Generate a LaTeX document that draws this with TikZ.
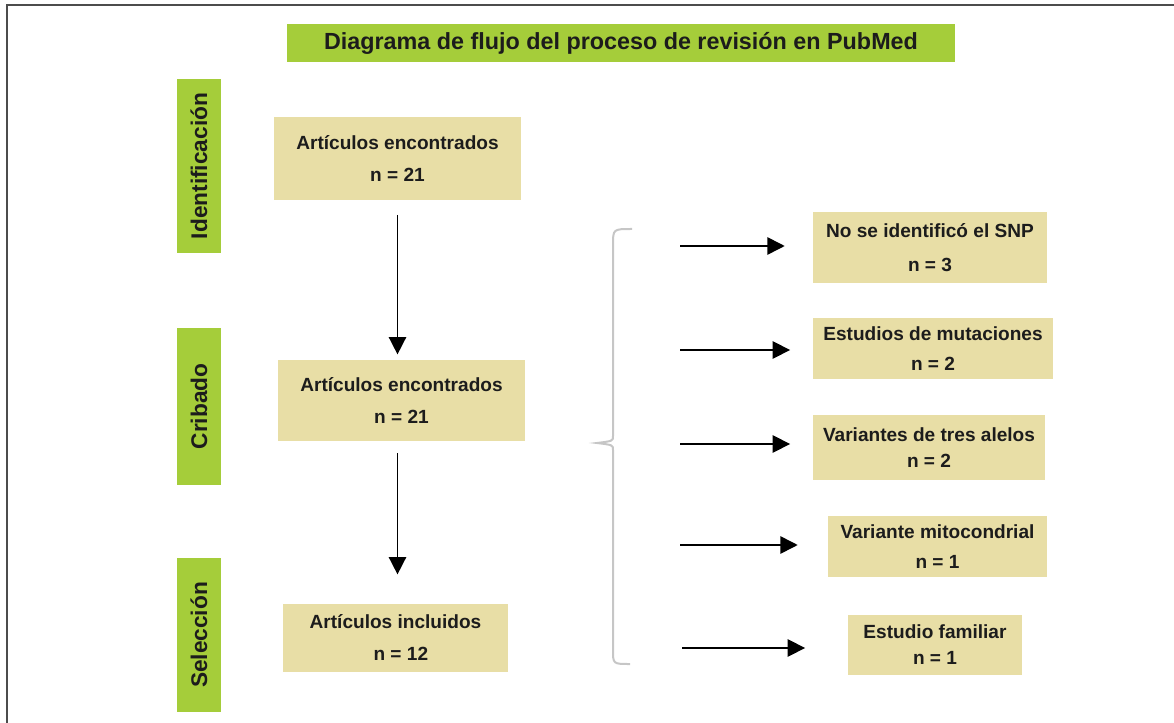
\documentclass[tikz,border=0pt]{standalone}
\usepackage{fontspec}
\setmainfont{Liberation Sans}
\usepackage{xcolor}
\usepackage{tikz}
\usetikzlibrary{arrows.meta}
\definecolor{stagegreen}{HTML}{A5CD3A}
\definecolor{boxtan}{HTML}{E8DEA6}
\definecolor{inkgray}{HTML}{1C1C1C}
\tikzset{
    banner/.style={fill=stagegreen, minimum width=501pt, minimum height=28.5pt, inner sep=0pt, text=inkgray, font=\fontsize{17.5}{20}\selectfont\bfseries},
    stage/.style={fill=stagegreen, rotate=90, minimum height=33pt, inner sep=0pt, text=inkgray, font=\fontsize{17}{20}\selectfont\bfseries},
    % Flow boxes
    result/.style={fill=boxtan, inner sep=0pt, align=center, text=inkgray, font=\fontsize{14.3}{#1}\selectfont\bfseries},
    result/.default=24pt,
    flow/.style={-{Triangle[length=13pt, width=13pt]}, line width=1.2pt, black},
    bracket/.style={line width=1.5pt, gray!45},
    frameline/.style={line width=2pt, gray!60!black}
}
\begin{document}
\begin{tikzpicture}[x=0.75pt, y=-0.75pt]
    \useasboundingbox (0,0) rectangle (1174,723);
    % Frame
    \draw[frameline] (7,723) -- (7,5) -- (1174,5);

    % Title
    \node[banner] (title) at (621,43) {Diagrama de flujo del proceso de revisión en PubMed};

    % Stages
    \node[stage, minimum width=130.5pt] (ident) at (199,166) {Identificación};
    \node[stage, minimum width=117.75pt] (crib) at (199,406.5) {Cribado};
    \node[stage, minimum width=115.5pt] (sel) at (199,635) {Selección};

    % Main flow
    \node[result, minimum width=185.25pt, minimum height=62.25pt] (enc1) at (397.5,158.5) {Artículos encontrados\\n = 21};
    \node[result, minimum width=185.25pt, minimum height=60.75pt] (enc2) at (401.5,400.5) {Artículos encontrados\\n = 21};
    \node[result, minimum width=168.75pt, minimum height=51pt] (incl) at (395.5,638) {Artículos incluidos\\\hspace*{8pt}n = 12};

    \draw[flow, shorten <=11pt, shorten >=4pt] (enc1.south) -- (enc1.south |- enc2.north);
    \draw[flow, shorten <=9pt, shorten >=22pt] (enc2.south -| enc1.south) -- (enc1.south |- incl.north);

    % Excluded articles
    \node[result=26pt, minimum width=175.5pt, minimum height=53.25pt] (snp) at (930,247.5) {No se identificó el SNP\\n = 3};
    \node[result=22.5pt, minimum width=180pt, minimum height=45.75pt] (mut) at (933,348.5) {Estudios de mutaciones\\n = 2};
    \node[result=20pt, minimum width=174pt, minimum height=48.75pt] (alel) at (929,447.5) {Variantes de tres alelos\\n = 2};
    \node[result=22.5pt, minimum width=164.25pt, minimum height=45.75pt] (mito) at (937.5,546.5) {Variante mitocondrial\\n = 1};
    \node[result=19.5pt, minimum width=130.5pt, minimum height=45pt] (fam) at (935,645) {Estudio familiar\\n = 1};

    % Bracket
    \draw[bracket] (632,229) .. controls (613,229) .. (613,245) -- (613,436)
        .. controls (613,441) .. (597,443) .. controls (613,445) .. (613,450)
        -- (613,650) .. controls (613,664) .. (630,664);

    % Arrows to excluded
    \coordinate (snpin) at (680,246);
    \coordinate (mutin) at (680,350);
    \coordinate (alelin) at (680,444);
    \coordinate (mitoin) at (680,545);
    \coordinate (famin) at (682,648);
    \draw[flow, shorten >=21pt] (snpin) -- (snpin -| snp.west);
    \draw[flow, shorten >=17pt] (mutin) -- (mutin -| mut.west);
    \draw[flow, shorten >=17pt] (alelin) -- (alelin -| alel.west);
    \draw[flow, shorten >=22.5pt] (mitoin) -- (mitoin -| mito.west);
    \draw[flow, shorten >=32pt] (famin) -- (famin -| fam.west);
\end{tikzpicture}
\end{document}
